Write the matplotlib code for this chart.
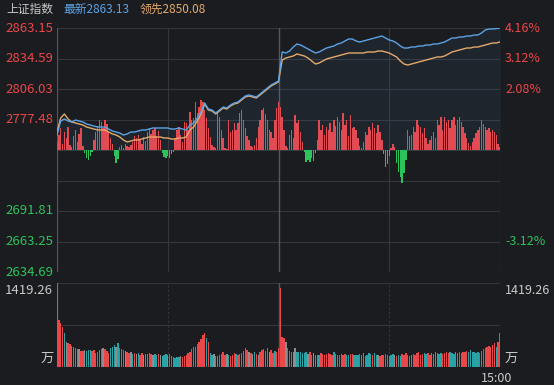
import numpy as np
import matplotlib
matplotlib.use("Agg")
import matplotlib.pyplot as plt
from matplotlib.transforms import blended_transform_factory

plt.rcParams['font.family'] = ['Noto Sans CJK SC', 'DejaVu Sans']

################## DATA ##########################################################################
index_name = "上证指数"
latest_last = 2863.13
leading_last = 2850.08
prev_close = 2748.92
price_top = 2863.15
price_bottom = 2634.69
vol_max = 1419.26

# 最新 (blue) and 领先 (orange), sampled every 2 minutes, 9:30-11:30 then 13:00-15:00
latest = [2762.96, 2776.07, 2777.95, 2776.07, 2775.14, 2777.01, 2776.07, 2775.14, 2773.26, 2772.33,
          2771.39, 2770.46, 2770.46, 2770.46, 2768.58, 2766.71, 2765.77, 2764.84, 2762.96, 2763.90,
          2765.77, 2765.77, 2766.71, 2767.65, 2767.65, 2768.58, 2769.52, 2769.52, 2769.52, 2769.52,
          2769.52, 2768.58, 2768.58, 2769.52, 2768.58, 2767.65, 2772.33, 2774.20, 2778.88, 2784.50,
          2792.93, 2787.31, 2786.37, 2783.56, 2786.37, 2789.18, 2788.25, 2791.05, 2792.93, 2793.86,
          2796.67, 2799.48, 2800.42, 2799.48, 2798.54, 2801.35, 2804.16, 2806.97, 2809.78, 2811.65,
          2813.53,
          2840.68, 2839.74, 2841.61, 2845.36, 2848.17, 2847.23, 2845.36, 2843.49, 2841.61, 2839.74,
          2840.68, 2842.55, 2844.42, 2845.36, 2846.30, 2848.17, 2849.11, 2850.98, 2852.85, 2852.85,
          2850.98, 2850.04, 2850.98, 2851.92, 2852.85, 2853.79, 2854.72, 2855.66, 2853.79, 2851.92,
          2850.98, 2849.11, 2846.30, 2844.42, 2844.42, 2845.36, 2845.36, 2846.30, 2846.30, 2847.23,
          2847.23, 2848.17, 2848.17, 2849.11, 2850.04, 2851.92, 2853.79, 2853.79, 2854.72, 2854.72,
          2855.66, 2855.66, 2856.60, 2856.60, 2858.47, 2861.28, 2862.21, 2862.21, 2862.60, 2863.13]

leading = [2765.77, 2778.88, 2782.63, 2777.95, 2775.14, 2774.20, 2773.26, 2772.33, 2770.46, 2769.52,
           2768.58, 2767.65, 2767.65, 2767.65, 2765.77, 2763.90, 2762.96, 2761.09, 2758.28, 2756.41,
           2757.35, 2758.28, 2758.28, 2759.22, 2760.16, 2761.09, 2761.09, 2761.09, 2761.09, 2760.16,
           2760.16, 2759.22, 2759.22, 2760.16, 2760.16, 2761.09, 2767.65, 2770.46, 2776.07, 2782.63,
           2791.99, 2786.37, 2785.44, 2782.63, 2785.44, 2788.25, 2787.31, 2790.12, 2791.99, 2792.93,
           2795.74, 2798.54, 2799.48, 2798.54, 2797.61, 2800.42, 2803.23, 2806.03, 2808.84, 2810.72,
           2812.59,
           2833.19, 2835.06, 2836.00, 2836.93, 2838.81, 2837.87, 2836.93, 2835.06, 2832.25, 2829.44,
           2830.38, 2832.25, 2834.12, 2835.06, 2836.00, 2836.93, 2837.87, 2838.81, 2839.74, 2839.74,
           2839.74, 2839.74, 2839.74, 2840.68, 2840.68, 2840.68, 2841.61, 2841.61, 2840.68, 2839.74,
           2837.87, 2836.00, 2832.25, 2829.44, 2828.51, 2829.44, 2830.38, 2831.32, 2832.25, 2833.19,
           2834.12, 2835.06, 2836.00, 2836.00, 2836.93, 2838.81, 2840.68, 2841.61, 2842.55, 2843.49,
           2844.42, 2844.42, 2845.36, 2845.36, 2846.30, 2847.23, 2848.17, 2849.11, 2849.11, 2850.08]

# red/green strength bars, one per minute
strength = [8, 15, 22, 6, 18, 12, 23, 5, 3, 14, 20, 8, 16, 22, 4,
            -3, -8, -10, -6, -2,
            10, 18, 24, 30, 28, 22, 30, 26, 18, 12, 6,
            -6, -13, -9,
            3, 5, 2, 6, 4, 3, 5,
            8, 14, 12, 15, 10, 6, 13, 9,
            18, 22, 16, 20, 22, 14, 19, 10,
            -3, -7, -8, -6, -8, -4, -2,
            12, 20, 23, 15, 8,
            28, 27, 20, 38, 30, 32, 48, 37, 43, 50, 48, 40, 32,
            22, 13, 5, 3, 2, 37, 33, 20,
            12, 2, 1, 30, 18,
            20, 27, 20, 27, 37, 40, 30, 22, 14, 10,
            4, 3, 5, 12,
            23, 30, 40, 42, 36, 30, 20, 18, 12, 30, 42, 48,
            43, 33, 20, 4, 2,
            15, 20, 12, 35, 27, 30, 18, 8,
            -2, -12, -10, -12, -8, -11, -3,
            10, 30, 20, 25, 15, 23, 20, 27, 18, 30, 24, 33, 28, 20, 37, 25, 30, 14, 35, 22,
            23, 20, 12,
            4, 2, 8,
            18, 15, 23, 20, 27, 22, 17, 25, 18, 10,
            -4, -17, -14, -6,
            2, 6, 3,
            -13, -22, -27, -33, -23, -10,
            20, 14, 15, 23, 18, 30, 25, 23, 17, 22, 12, 6, 10, 14,
            18, 12, 30, 25, 33, 20, 33, 28, 30, 22, 30, 33, 25, 30, 33, 28, 23, 17, 12, 7, 4, 8,
            12, 17, 20, 23, 30, 26, 23, 20, 22, 18, 20, 18, 15, 6, 3]

# volume (万), one per minute
volume = [1419.26, 800, 745, 680, 575, 420, 405, 390, 355, 340,
          325, 305, 300, 270, 265, 285, 270, 280, 290, 270,
          285, 240, 250, 285, 300, 320, 305, 270, 240, 320,
          340, 370, 330, 405, 320, 300, 290, 270, 250, 235,
          250, 220, 240, 225, 235, 210, 230, 200, 225, 215,
          230, 220, 205, 215, 200, 225, 210, 190, 205, 220,
          200, 215, 185, 170, 160, 175, 165, 180, 170, 190,
          210, 240, 260, 300, 340, 330, 390, 430, 470, 540,
          575, 490, 420, 230, 200, 215, 180, 190, 200, 215,
          245, 210, 225, 200, 185, 205, 240, 220, 200, 215,
          235, 265, 325, 290, 260, 240, 220, 260, 215, 200,
          245, 280, 300, 270, 320, 250, 290, 230, 270, 250,
          320,
          1335, 505, 490, 420, 320, 270, 255, 250, 320, 260,
          250, 245, 240, 230, 255, 225, 245, 210, 235, 200,
          210, 195, 230, 215, 205, 215, 240, 220, 210, 250,
          225, 210, 200, 220, 210, 225, 205, 195, 215, 225,
          210, 195, 205, 215, 200, 230, 185, 205, 240, 220,
          200, 230, 210, 195, 180, 195, 210, 225, 205, 185,
          200, 215, 195, 190, 205, 180, 215, 200, 235, 210,
          190, 205, 220, 200, 230, 245, 210, 225, 240, 215,
          230, 210, 235, 220, 245, 230, 215, 235, 220, 240,
          250, 230, 255, 240, 225, 245, 235, 250, 240, 260,
          245, 270, 255, 280, 260, 250, 235, 255, 240, 270,
          300, 320, 340, 355, 330, 375, 400, 330, 420, 570]

# r = up, t = down, g = flat
vol_dir = ("rrrrtgrrtt" "ttgrrgtttr" "rrrrrgrrrt" "ttgtrrrgrr" "gtrgtrrgtt" "rrgttrgttt"
           "grrttttgrr" "rrrrrrrrrr" "rtrttgttrr" "rrgtrrrtrr" "rrrrgrgtrg" "rrrrrgrrtr" "r"
           "rrrgrrrggt" "tttttgrrgt" "ttrrrrrrrt" "ttrrrrttrr" "tttrttrttt" "rttgrrrrrt"
           "ttgrttrrrr" "ttrrrrrrtt" "rrttttttrr" "rrtttttrrr" "rrttttttrr" "rrrrrrrtrr")

left_labels = ["2863.15", "2834.59", "2806.03", "2777.48", "2691.81", "2663.25", "2634.69"]
right_labels = ["4.16%", "3.12%", "2.08%", "-3.12%"]

################## STYLE #########################################################################
bg = "#1b1c20"
gridColor = "#34363c"
borderColor = "#55575d"
red = "#ec4649"
green = "#2cc35c"
blue = "#5ba3e6"
orange = "#e3a96a"
textGray = "#c9c9c9"
volColors = {"r": "#e8484a", "t": "#2aa3a6", "g": "#8d8d8d"}

W, H = 554, 385
fig = plt.figure(figsize=(W / 100, H / 100), dpi=100, facecolor=bg)


def rect(x0, y0, x1, y1):
    return [x0 / W, 1 - y1 / H, (x1 - x0) / W, (y1 - y0) / H]


def px(x, y):
    return x / W, 1 - y / H


################## MAIN PANEL ####################################################################
levels = np.linspace(price_bottom, price_top, 9)

axBar = fig.add_axes(rect(57, 28, 500, 272))
axBar.set_facecolor(bg)
axBar.set_xlim(0, 240)
axBar.set_ylim(-122, 122)
for s in axBar.spines.values():
    s.set_visible(False)
axBar.set_xticks([])
axBar.set_yticks([])
for k in range(9):
    axBar.axhline(-122 + k * 30.5, color=gridColor, lw=0.8, zorder=0)
for m in (60, 180):
    axBar.axvline(m, color=gridColor, lw=0.8, zorder=0)
axBar.axvline(0, color=borderColor, lw=0.9, zorder=0)
axBar.axvline(240, color=borderColor, lw=0.8, zorder=0)
axBar.axvline(120, color=borderColor, lw=1.0, zorder=0)

minutes = np.arange(len(strength))
sv = np.array(strength)
axBar.bar(minutes, sv, width=0.75, color=[red if v > 0 else green for v in sv],
          linewidth=0, antialiased=False, zorder=2)

ax = fig.add_axes(rect(57, 28, 500, 272))
ax.patch.set_alpha(0)
ax.set_xlim(0, 240)
ax.set_ylim(price_bottom, price_top)
for s in ax.spines.values():
    s.set_visible(False)
ax.set_xticks([])
ax.set_yticks([])

t2 = np.arange(0, 241, 2)
ax.fill_between(t2, latest, prev_close, color=blue, alpha=0.07, lw=0, zorder=1)
ax.plot(t2, leading, color=orange, lw=1.0, zorder=3)
ax.plot(t2, latest, color=blue, lw=1.0, zorder=4)

tr = blended_transform_factory(fig.transFigure, ax.transData)
leftLevels = [levels[8], levels[7], levels[6], levels[5], levels[2], levels[1], levels[0]]
for lab, lv in zip(left_labels, leftLevels):
    c = red if lv > prev_close else green
    ax.text(53 / W, lv, lab, transform=tr, ha="right", va="center", fontsize=9.5, color=c)
rightLevels = [levels[8], levels[7], levels[6], levels[1]]
for lab, lv in zip(right_labels, rightLevels):
    c = red if lv > prev_close else green
    ax.text(505 / W, lv, lab, transform=tr, ha="left", va="center", fontsize=9, color=c)

################## VOLUME PANEL ##################################################################
axV = fig.add_axes(rect(57, 283, 500, 367))
axV.set_facecolor(bg)
axV.set_xlim(0, 240)
axV.set_ylim(0, vol_max)
for s in axV.spines.values():
    s.set_visible(False)
axV.set_xticks([])
axV.set_yticks([])
axV.axhline(vol_max, color=gridColor, lw=0.8, zorder=0)
axV.axhline(vol_max / 2, color=gridColor, lw=0.8, zorder=0)
for m in (60, 180):
    axV.axvline(m, color=gridColor, lw=0.8, ls=(0, (2, 2)), zorder=0)
axV.axvline(0, color=borderColor, lw=0.9, zorder=0)
axV.axvline(120, color=borderColor, lw=1.0, zorder=0)

vm = np.arange(len(volume))
axV.bar(vm, volume, width=0.75, color=[volColors[c] for c in vol_dir[:len(volume)]],
        linewidth=0, antialiased=False, zorder=2)

fig.text(*px(53, 291), "%.2f" % vol_max, ha="right", va="center", fontsize=9.5, color=textGray)
fig.text(*px(505, 291), "%.2f" % vol_max, ha="left", va="center", fontsize=9, color=textGray)
fig.text(*px(47, 358), "万", ha="center", va="center", fontsize=9.5, color=textGray)
fig.text(*px(511, 358), "万", ha="center", va="center", fontsize=9.5, color=textGray)
fig.text(*px(497, 378), "15:00", ha="center", va="center", fontsize=9, color=textGray)

################## HEADER ########################################################################
fig.text(*px(6, 9), index_name, ha="left", va="center", fontsize=8.5, color=textGray)
fig.text(*px(63, 9), "最新%.2f" % latest_last, ha="left", va="center", fontsize=8.5, color=blue)
fig.text(*px(140, 9), "领先%.2f" % leading_last, ha="left", va="center", fontsize=8.5, color=orange)

fig.savefig("out.png", dpi=100, facecolor=bg)
